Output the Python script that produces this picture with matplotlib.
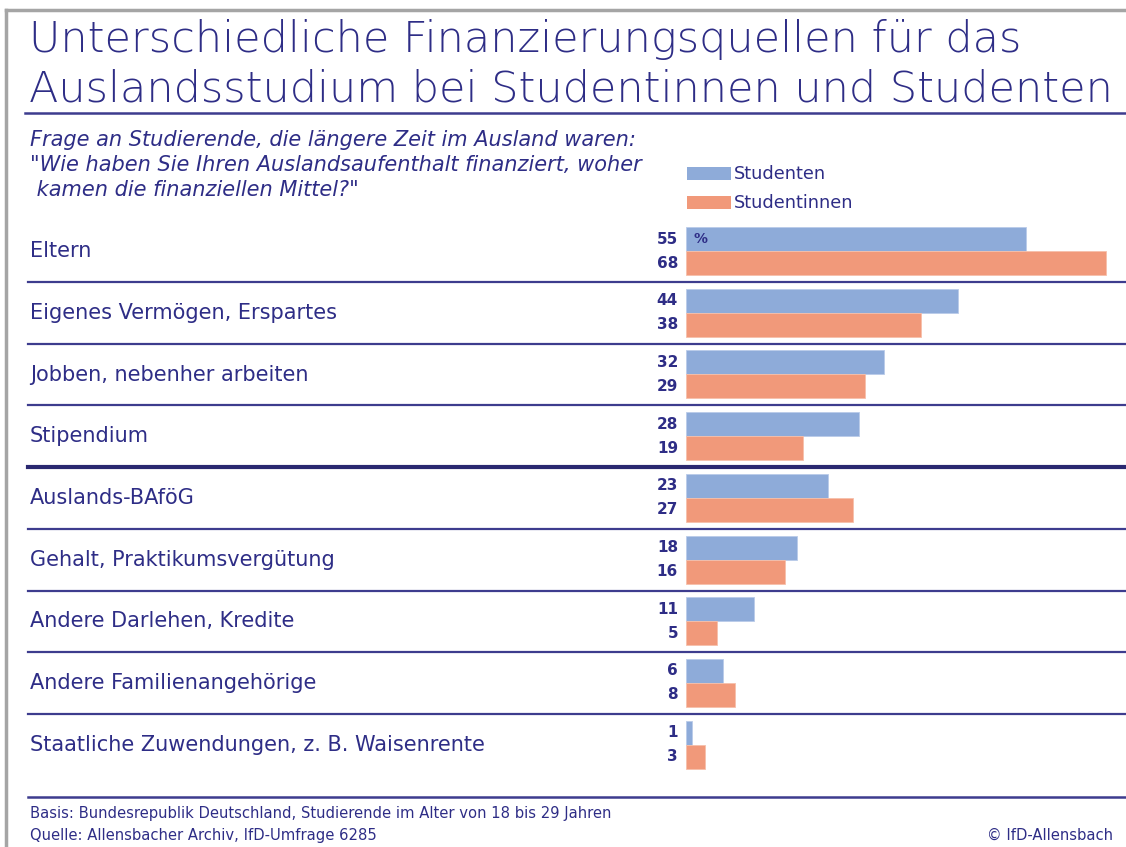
import numpy as np
import matplotlib
matplotlib.use("Agg")
import matplotlib.pyplot as plt
import matplotlib.transforms as mtransforms
from matplotlib.patches import Rectangle
from matplotlib.lines import Line2D

# --- data ---
kategorien = [
    "Eltern",
    "Eigenes Vermögen, Erspartes",
    "Jobben, nebenher arbeiten",
    "Stipendium",
    "Auslands-BAföG",
    "Gehalt, Praktikumsvergütung",
    "Andere Darlehen, Kredite",
    "Andere Familienangehörige",
    "Staatliche Zuwendungen, z. B. Waisenrente",
]
studenten = [55, 44, 32, 28, 23, 18, 11, 6, 1]
studentinnen = [68, 38, 29, 19, 27, 16, 5, 8, 3]
serien = ["Studenten", "Studentinnen"]

titel = ["Unterschiedliche Finanzierungsquellen für das",
         "Auslandsstudium bei Studentinnen und Studenten"]
frage = ["Frage an Studierende, die längere Zeit im Ausland waren:",
         "\"Wie haben Sie Ihren Auslandsaufenthalt finanziert, woher",
         " kamen die finanziellen Mittel?\""]
basis = "Basis: Bundesrepublik Deutschland, Studierende im Alter von 18 bis 29 Jahren"
quelle = "Quelle: Allensbacher Archiv, IfD-Umfrage 6285"
copyright_txt = "© IfD-Allensbach"

# --- style ---
W, H = 1126, 847
navy = "#2e2d86"
linecol = "#3d3c8e"
blau = "#8eabd9"
orange = "#f1997a"
plt.rcParams["font.family"] = ["DejaVu Sans"]


def fx(p):
    return p / W


def fy(p):
    return 1 - p / H


fig = plt.figure(figsize=(W / 100, H / 100), dpi=100)
fig.patch.set_facecolor("white")

# bar axes: 6.18 px per percent, rows 61.7 px apart
scale = 6.18
pitch = 61.7
x0, ytop = 686, 220.3
n = len(kategorien)
ax = fig.add_axes([fx(x0), fy(ytop + n * pitch), 70 * scale / W, n * pitch / H])
ax.set_xlim(0, 70)
ax.set_ylim(n, 0)
ax.axis("off")

rows = np.arange(n)
off_b, off_o, bh = 0.109, 0.498, 0.389
ax.barh(rows + off_b, studenten, height=bh, align="edge", color=blau,
        edgecolor="#b9cbe9", linewidth=0.6, label=serien[0])
ax.barh(rows + off_o, studentinnen, height=bh, align="edge", color=orange,
        edgecolor="#f6c0ab", linewidth=0.6, label=serien[1])

for i in range(n):
    ax.text(-1.3, i + off_b + bh / 2, str(studenten[i]), ha="right", va="center",
            fontsize=11, fontweight="bold", color=navy)
    ax.text(-1.3, i + off_o + bh / 2, str(studentinnen[i]), ha="right", va="center",
            fontsize=11, fontweight="bold", color=navy)
ax.text(1.2, off_b + bh / 2, "%", ha="left", va="center", fontsize=10,
        fontweight="bold", color=navy)

# category labels and separator lines (x in figure, y in data)
blend = mtransforms.blended_transform_factory(fig.transFigure, ax.transData)
for i, kat in enumerate(kategorien):
    ax.text(fx(30), i + 0.5, kat, transform=blend, ha="left", va="center",
            fontsize=15, color=navy)
for i in range(1, n):
    lw, col = (3.0, "#2a2870") if i == 4 else (1.6, linecol)
    ax.add_line(Line2D([fx(28), 1], [i, i], transform=blend, color=col,
                       linewidth=lw, clip_on=False))

# frame, title rule and bottom rule
fig.add_artist(Line2D([fx(6), fx(6)], [0, fy(10)], color="#a5a5a5", linewidth=2.5))
fig.add_artist(Line2D([fx(6), 1], [fy(10), fy(10)], color="#a5a5a5", linewidth=2.5))
fig.add_artist(Line2D([fx(25), 1], [fy(113), fy(113)], color=linecol, linewidth=1.8))
fig.add_artist(Line2D([fx(28), 1], [fy(797), fy(797)], color=linecol, linewidth=1.8))

# title
fig.text(fx(29), fy(52), titel[0], ha="left", va="baseline", fontsize=31,
         color=navy, fontweight="light")
fig.text(fx(29), fy(101), titel[1], ha="left", va="baseline", fontsize=31,
         color=navy, fontweight="light")

# question
for j, zeile in enumerate(frage):
    fig.text(fx(30), fy(140 + 25 * j), zeile, ha="left", va="center", fontsize=15,
             style="italic", color=navy)

# legend
for j, (name, col) in enumerate(zip(serien, [blau, orange])):
    yc = 174 + 29 * j
    fig.add_artist(Rectangle((fx(687), fy(yc + 6.5)), 44 / W, 13 / H,
                             facecolor=col, edgecolor="none"))
    fig.text(fx(734), fy(yc), name, ha="left", va="center", fontsize=12.8, color=navy)

# footer
fig.text(fx(30), fy(813), basis, ha="left", va="center", fontsize=10.6, color=navy)
fig.text(fx(30), fy(835), quelle, ha="left", va="center", fontsize=10.6, color=navy)
fig.text(fx(1113), fy(835), copyright_txt, ha="right", va="center", fontsize=10.6, color=navy)

fig.savefig("out.png", dpi=100, facecolor="white")
